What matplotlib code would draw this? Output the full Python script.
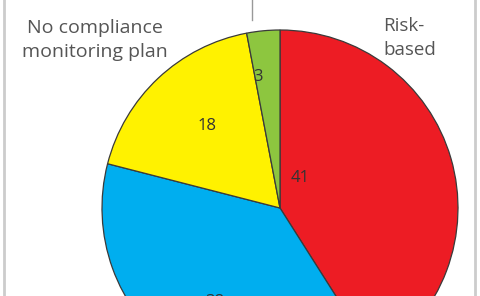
import matplotlib.pyplot as plt
from matplotlib.lines import Line2D

# slice data (clockwise from 12 o'clock)
labels = ['Risk-based', 'Other', 'No compliance monitoring plan', 'Small']
values = [41, 38, 18, 3]
colors = ['#ed1c24', '#00aeef', '#fff200', '#8dc63f']
value_text = ['41', '38', '18', '3']

plt.rcParams['font.family'] = ['Open Sans', 'DejaVu Sans']

fig = plt.figure(figsize=(4.8, 2.96), dpi=100)
ax = fig.add_axes([0, 0, 1, 1])

# pie centre sits low, so bottom part is cut off
cx, cy, r = 280, 296 - 208, 178
wedges, _ = ax.pie(values, colors=colors, startangle=90, counterclock=False,
                   center=(cx, cy), radius=r, frame=True,
                   wedgeprops=dict(edgecolor='#3a3a3a', linewidth=0.9))
ax.set_xlim(0, 480)
ax.set_ylim(0, 296)
ax.set_aspect('equal')
ax.axis('off')

# value labels
pos = [(300, 296 - 178), (215, 296 - 302), (207, 296 - 126), (258, 296 - 77)]
for (x, y), t in zip(pos, value_text):
    ax.text(x, y, t, ha='center', va='center', fontsize=12, color='#333333')

# category labels
ax.text(95, 296 - 40, 'No compliance\nmonitoring plan', ha='center', va='center',
        fontsize=14, color='#555555', linespacing=1.45)
ax.text(383, 296 - 38, 'Risk-\nbased', ha='left', va='center',
        fontsize=13.5, color='#555555', linespacing=1.45)

# leader line to the small slice label (cut off above)
ax.add_line(Line2D([252, 252], [296, 296 - 20], color='#999999', linewidth=1))

# side borders
ax.add_line(Line2D([4, 4], [0, 296], color='#cccccc', linewidth=2))
ax.add_line(Line2D([475, 475], [0, 296], color='#cccccc', linewidth=2))

fig.savefig('out.png', dpi=100)
